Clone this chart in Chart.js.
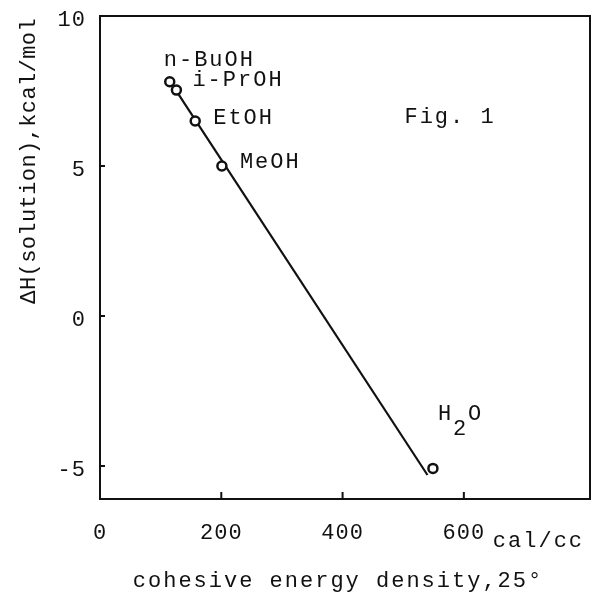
<!DOCTYPE html>
<html lang="en">
<head>
    <meta charset="UTF-8">
    <title>Fig. 1 - heat of solution vs cohesive energy density</title>
    <script src="https://cdnjs.cloudflare.com/ajax/libs/Chart.js/4.4.0/chart.umd.min.js"></script>
    <style>
        body { margin: 0; background: #fff; }
        canvas { display: block; }
    </style>
</head>
<body>
    <canvas id="fig1" width="597" height="593"></canvas>
    <script>
        // solvents and measured values
        const solvents = ['n-BuOH', 'i-PrOH', 'EtOH', 'MeOH', 'H2O'];
        const cohesiveEnergy = [115, 126, 157, 201, 549];      // cal/cc
        const heatOfSolution = [7.81, 7.53, 6.5, 5.0, -5.08];  // kcal/mol

        // straight line drawn through the alcohols
        const fitX = [122, 540];
        const fitY = [7.62, -5.3];

        const xTicks = [0, 200, 400, 600];
        const yTicks = [-5, 0, 5, 10];

        const xTitle = 'cohesive energy density,25°';
        const yTitle = 'ΔH(solution),kcal/mol';

        const FONT = '"Liberation Mono", "DejaVu Sans Mono", monospace';

        // where each solvent name sits relative to its point (px)
        const labelShift = [[-6, -16], [16, -4], [18, 3], [18, 2], [5, -48]];

        const framePlugin = {
            id: 'frame',
            beforeDraw(chart) {
                chart.ctx.letterSpacing = '1px';
            },
            afterDraw(chart) {
                const c = chart.ctx;
                const a = chart.chartArea;
                const xs = chart.scales.x, ys = chart.scales.y;
                c.save();
                c.strokeStyle = '#111';
                c.lineWidth = 2;
                c.strokeRect(a.left, a.top, a.right - a.left, a.bottom - a.top);

                // short inward tick marks
                c.beginPath();
                yTicks.forEach(v => {
                    if (v >= 10) return;
                    const py = ys.getPixelForValue(v);
                    c.moveTo(a.left, py);
                    c.lineTo(a.left + 5, py);
                });
                xTicks.forEach(v => {
                    if (v === 0) return;
                    const px = xs.getPixelForValue(v);
                    c.moveTo(px, a.bottom);
                    c.lineTo(px, a.bottom - 7);
                });
                c.stroke();

                c.fillStyle = '#111';
                c.font = '22px ' + FONT;
                c.letterSpacing = '2px';
                c.textAlign = 'left';
                c.textBaseline = 'alphabetic';

                solvents.forEach((name, i) => {
                    const px = xs.getPixelForValue(cohesiveEnergy[i]);
                    const py = ys.getPixelForValue(heatOfSolution[i]);
                    const [dx, dy] = labelShift[i];
                    if (name === 'H2O') {
                        c.fillText('H', px + dx, py + dy);
                        c.fillText('2', px + dx + 15, py + dy + 15);
                        c.fillText('O', px + dx + 30, py + dy);
                    } else {
                        c.fillText(name, px + dx, py + dy);
                    }
                });

                c.fillText('Fig. 1', xs.getPixelForValue(502), ys.getPixelForValue(6.45));
                c.fillText('cal/cc', xs.getPixelForValue(600) + 29, a.bottom + 48);

                // axis titles
                c.textAlign = 'center';
                c.fillText(xTitle, (a.left + a.right) / 2 - 7, a.bottom + 88);

                c.translate(35, a.top + 2);
                c.rotate(-Math.PI / 2);
                c.letterSpacing = '0.4px';
                c.textAlign = 'right';
                c.fillText(yTitle, 0, 0);
                c.restore();
            }
        };

        new Chart(document.getElementById('fig1'), {
            type: 'scatter',
            data: {
                datasets: [
                    {
                        label: 'fit',
                        type: 'line',
                        data: fitX.map((x, i) => ({ x: x, y: fitY[i] })),
                        borderColor: '#111',
                        borderWidth: 2.2,
                        pointRadius: 0,
                        fill: false,
                        order: 2
                    },
                    {
                        label: 'solvents',
                        data: cohesiveEnergy.map((x, i) => ({ x: x, y: heatOfSolution[i] })),
                        pointStyle: 'circle',
                        pointRadius: 4.5,
                        borderWidth: 2.5,
                        borderColor: '#111',
                        backgroundColor: '#fff',
                        order: 1
                    }
                ]
            },
            options: {
                responsive: false,
                animation: false,
                layout: { padding: { left: 0, top: 16, right: 7, bottom: 0 } },
                plugins: {
                    legend: { display: false },
                    tooltip: { enabled: false }
                },
                scales: {
                    x: {
                        type: 'linear',
                        min: 0,
                        max: 808,
                        afterBuildTicks: s => { s.ticks = xTicks.map(v => ({ value: v })); },
                        afterFit: s => { s.height = 94; s.paddingLeft = 0; s.paddingRight = 0; },
                        grid: { display: false, drawTicks: false },
                        border: { display: false },
                        ticks: {
                            color: '#111',
                            font: { family: FONT, size: 22 },
                            padding: 21,
                            maxRotation: 0
                        }
                    },
                    y: {
                        type: 'linear',
                        min: -6.1,
                        max: 10,
                        afterBuildTicks: s => { s.ticks = yTicks.map(v => ({ value: v })); },
                        afterFit: s => { s.width = 100; s.paddingTop = 0; s.paddingBottom = 0; },
                        grid: { display: false, drawTicks: false },
                        border: { display: false },
                        ticks: {
                            color: '#111',
                            font: { family: FONT, size: 22 },
                            padding: 14,
                            labelOffset: 4
                        }
                    }
                }
            },
            plugins: [framePlugin]
        });
    </script>
</body>
</html>
